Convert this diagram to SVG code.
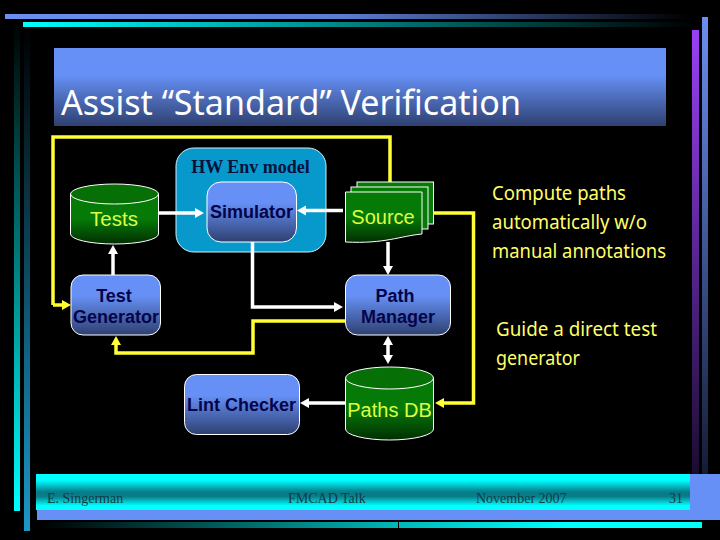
<svg xmlns="http://www.w3.org/2000/svg" width="720" height="540" viewBox="0 0 720 540">
<style>
.sans{font-family:"Liberation Sans",Arial,sans-serif}
.tah{font-family:"Noto Sans","DejaVu Sans",sans-serif}
.serif{font-family:"Liberation Serif","Times New Roman",serif}
.nl{font-size:18px;fill:#04044a;text-anchor:middle;font-weight:700}
.gl{font-size:20px;fill:#ddff44;text-anchor:middle}
.note{font-size:19px;fill:#ffff66}
.foot{font-size:14px;fill:#123c44}
.box{fill:url(#blue);stroke:#fff;stroke-width:1}
.cyl{fill:url(#green);stroke:#fff;stroke-width:1}
.cyltop{fill:#067006;stroke:#fff;stroke-width:1}
.w{fill:none;stroke:#fff;stroke-width:3.500}
.y{fill:none;stroke:#ffff33;stroke-width:3.500}
.wa{fill:#fff}
.ya{fill:#ffff33}
</style>
<defs>
<linearGradient id="blue" x1="0" y1="0" x2="0" y2="1"><stop offset="0" stop-color="#6690f5"/><stop offset=".35" stop-color="#6690f5"/><stop offset="1" stop-color="#2e4070"/></linearGradient>
<linearGradient id="green" x1="0" y1="0" x2="0" y2="1"><stop offset="0" stop-color="#067a06"/><stop offset=".5" stop-color="#067a06"/><stop offset="1" stop-color="#022e02"/></linearGradient>
<linearGradient id="foot" x1="0" y1="0" x2="0" y2="1"><stop offset="0" stop-color="#00ffff"/><stop offset=".17" stop-color="#00ffff"/><stop offset=".5" stop-color="#087c88"/><stop offset=".62" stop-color="#087c88"/><stop offset=".88" stop-color="#00ffff"/><stop offset="1" stop-color="#00ffff"/></linearGradient>
<linearGradient id="t1" x1="0" y1="0" x2="1" y2="0"><stop offset="0" stop-color="#6a90f0"/><stop offset=".5" stop-color="#5a7cd0"/><stop offset="1" stop-color="#000"/></linearGradient>
<linearGradient id="t2" x1="0" y1="0" x2="1" y2="0"><stop offset="0" stop-color="#00ffff"/><stop offset="1" stop-color="#000"/></linearGradient>
<linearGradient id="l1" x1="0" y1="0" x2="0" y2="1"><stop offset="0" stop-color="#000"/><stop offset="1" stop-color="#00ffff"/></linearGradient>
<linearGradient id="l2" x1="0" y1="0" x2="0" y2="1"><stop offset="0" stop-color="#000"/><stop offset="1" stop-color="#1a98c8"/></linearGradient>
<linearGradient id="r1" x1="0" y1="0" x2="0" y2="1"><stop offset="0" stop-color="#9a40f5"/><stop offset="1" stop-color="#1a0c30"/></linearGradient>
<linearGradient id="r2" x1="0" y1="0" x2="0" y2="1"><stop offset="0" stop-color="#6a90f0"/><stop offset="1" stop-color="#141c34"/></linearGradient>
<linearGradient id="b1" x1="0" y1="0" x2="1" y2="0"><stop offset="0" stop-color="#000"/><stop offset=".54" stop-color="#00b8b8"/><stop offset=".8" stop-color="#00ffff"/></linearGradient>
</defs>
<rect width="720" height="540" fill="#000"/>
<g id="frame">
<rect x="5" y="14" width="685" height="5" fill="url(#t1)"/>
<rect x="23" y="22" width="672" height="5" fill="url(#t2)"/>
<rect x="14" y="20" width="6" height="491" fill="url(#l1)"/>
<rect x="24" y="27" width="6" height="504" fill="url(#l2)"/>
<rect x="692" y="30" width="7" height="444" fill="url(#r1)"/>
<rect x="702" y="17" width="6" height="457" fill="url(#r2)"/>
<rect x="37" y="510" width="683" height="10" fill="#6690f5"/>
<rect x="690" y="474" width="30" height="46" fill="#6690f5"/>
<rect x="36" y="474" width="654" height="36" fill="url(#foot)"/>
<rect x="40" y="522" width="662" height="6" fill="url(#b1)"/>
<rect x="398" y="522" width="1" height="6" fill="#000"/>
</g>
<g id="title">
<rect x="54" y="48" width="612" height="78" fill="url(#blue)"/>
<text x="61" y="115" class="tah" font-size="35" fill="#fff" textLength="460" lengthAdjust="spacingAndGlyphs">Assist “Standard” Verification</text>
</g>
<g id="hw-env">
<rect x="176" y="148" width="150" height="104" rx="18" fill="#0899cc" stroke="#cfeef8" stroke-width="1"/>
<text x="250.500" y="173" class="serif" font-size="18" font-weight="700" fill="#04123c" text-anchor="middle">HW Env model</text>
</g>
<g id="connectors">
<path class="y" d="M53 305V137H390V182"/>
<path class="y" d="M53 305H63"/>
<path class="ya" d="M62 300L71 305L62 310Z"/>
<path class="w" d="M158 213H196"/>
<path class="wa" d="M195 208L204 213L195 218Z"/>
<path class="w" d="M343 210.500H305"/>
<path class="wa" d="M306 205.500L297 210.500L306 215.500Z"/>
<path class="w" d="M113 275V254"/>
<path class="wa" d="M108 254L113 245L118 254Z"/>
<path class="w" d="M252.500 242V307H335"/>
<path class="wa" d="M334 302L343 307L334 312Z"/>
<path class="y" d="M345 321H253V353H116V344"/>
<path class="ya" d="M111 345L116 336L121 345Z"/>
<path class="w" d="M388 242V266"/>
<path class="wa" d="M383 266L388 275L393 266Z"/>
<path class="w" d="M388 344V356"/>
<path class="wa" d="M383 345L388 336L393 345ZM383 355L388 364L393 355Z"/>
<path class="y" d="M433 213H473.500V403H444"/>
<path class="ya" d="M444 398L435 403L444 408Z"/>
<path class="w" d="M345 403H309"/>
<path class="wa" d="M309 398L300 403L309 408Z"/>
</g>
<g id="tests">
<path class="cyl" d="M70.500 194V234A44 10 0 0 0 158.500 234V194Z"/>
<ellipse class="cyltop" cx="114.500" cy="194" rx="44" ry="10"/>
<text x="114" y="226" class="sans gl" style="font-size:20.500px">Tests</text>
</g>
<g id="simulator">
<rect class="box" x="207" y="182" width="89.500" height="60" rx="14"/>
<text x="251.500" y="218" class="sans nl">Simulator</text>
</g>
<g id="source">
<rect x="357" y="182" width="76.500" height="42" fill="#067a06" stroke="#fff"/>
<rect x="351" y="187" width="77" height="42" fill="#067a06" stroke="#fff"/>
<path d="M345.500 192H422V234C400 236 385 244 345.500 242Z" fill="url(#green)" stroke="#fff"/>
<text x="383" y="224" class="sans gl">Source</text>
</g>
<g id="test-generator">
<rect class="box" x="71" y="275" width="89.500" height="60" rx="12"/>
<text x="114" y="302" class="sans nl">Test</text>
<text x="116" y="323" class="sans nl">Generator</text>
</g>
<g id="path-manager">
<rect class="box" x="345.500" y="275" width="105" height="60" rx="12"/>
<text x="395" y="302" class="sans nl">Path</text>
<text x="398" y="323" class="sans nl">Manager</text>
</g>
<g id="lint-checker">
<rect class="box" x="184.500" y="374.500" width="115" height="60" rx="12"/>
<text x="241.500" y="411" class="sans nl">Lint Checker</text>
</g>
<g id="paths-db">
<path class="cyl" d="M345.500 378V429A44 11 0 0 0 433.500 429V378Z"/>
<ellipse class="cyltop" cx="389.500" cy="378" rx="44" ry="11"/>
<text x="389.500" y="417" class="sans gl">Paths DB</text>
</g>
<g id="notes">
<text x="492" y="200" class="tah note" textLength="134" lengthAdjust="spacingAndGlyphs">Compute paths</text>
<text x="492" y="229" class="tah note" textLength="155" lengthAdjust="spacingAndGlyphs">automatically w/o</text>
<text x="492" y="258" class="tah note" textLength="174" lengthAdjust="spacingAndGlyphs">manual annotations</text>
<text x="496" y="336" class="tah note" textLength="161" lengthAdjust="spacingAndGlyphs">Guide a direct test</text>
<text x="496" y="365" class="tah note" textLength="84" lengthAdjust="spacingAndGlyphs">generator</text>
</g>
<g id="footer">
<text x="47" y="503" class="serif foot">E. Singerman</text>
<text x="288" y="503" class="serif foot">FMCAD Talk</text>
<text x="476" y="503" class="serif foot">November 2007</text>
<text x="669" y="503" class="serif foot">31</text>
</g>
</svg>
